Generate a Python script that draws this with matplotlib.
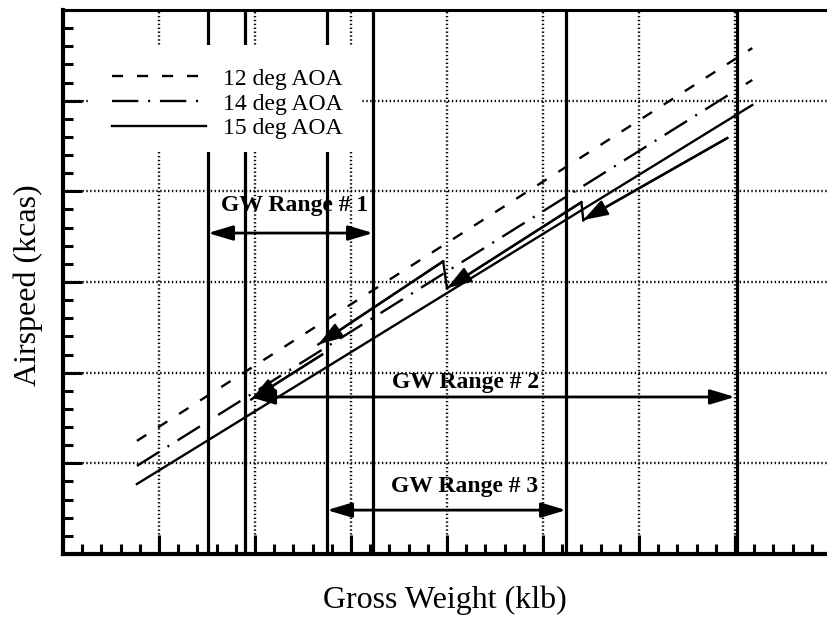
import matplotlib
matplotlib.use("Agg")
import matplotlib.pyplot as plt
from matplotlib.ticker import MultipleLocator, NullFormatter
from matplotlib.patches import Rectangle

plt.rcParams['font.family'] = ['Liberation Serif', 'DejaVu Serif']
plt.rcParams['lines.scale_dashes'] = False

# ---- data (GW in klb, airspeed in kcas) ----
aoa_labels = ["12 deg AOA", "14 deg AOA", "15 deg AOA"]
gw_12 = [43.85, 75.9]
kcas_12 = [131.2, 239.5]
gw_14 = [43.85, 75.9]
kcas_14 = [124.3, 230.7]
gw_15 = [43.85, 75.9]
kcas_15 = [119.3, 223.8]

# schedule (arrow) paths with steps
path_c_gw = [74.6, 67.1]
path_c_kcas = [214.7, 192.1]
path_b_gw = [67.0, 60.0]
path_b_kcas = [197.0, 173.3]
step_b_gw = [67.0, 67.1]
step_b_kcas = [197.0, 192.0]
path_a_gw = [59.8, 53.3]
path_a_kcas = [180.7, 157.8]
step_a_gw = [59.8, 60.0]
step_a_kcas = [180.7, 173.3]
path_d_gw = [53.5, 49.8]
path_d_kcas = [155.0, 142.6]

# GW range boundaries (thick vertical lines)
range_lines = [47.55, 49.48, 53.75, 56.15, 66.2, 75.1]
range_names = ["GW Range # 1", "GW Range # 2", "GW Range # 3"]
range_lo = [47.55, 49.74, 53.75]
range_hi = [56.15, 75.0, 66.2]
range_kcas = [188.5, 143.3, 112.1]
label_gw = [52.08, 60.97, 60.9]
label_kcas = [196.2, 147.4, 118.5]

W, H = 827, 620
fig = plt.figure(figsize=(W/100, H/100), dpi=100)
ax = fig.add_axes([63/W, (H-554)/H, (831-63)/W, (554-10)/H])
ax.set_xlim(40, 80)
ax.set_ylim(100, 250)

ax.xaxis.set_major_locator(MultipleLocator(5))
ax.xaxis.set_minor_locator(MultipleLocator(1))
ax.yaxis.set_major_locator(MultipleLocator(25))
ax.yaxis.set_minor_locator(MultipleLocator(5))
ax.xaxis.set_major_formatter(NullFormatter())
ax.yaxis.set_major_formatter(NullFormatter())
ax.tick_params(which='both', direction='in', top=False, right=False, width=2.2, color='black')
ax.tick_params(which='minor', length=7)
ax.tick_params(which='major', length=14)
ax.grid(True, which='major', linestyle=(0, (1, 1.8)), color='black', linewidth=1.7)
for s in ['left', 'bottom']:
    ax.spines[s].set_linewidth(3)
ax.spines['top'].set_linewidth(2.2)
ax.spines['right'].set_linewidth(2)

for x in range_lines:
    ax.axvline(x, color='black', linewidth=2.3, zorder=2)

lw = 1.7
l12, = ax.plot(gw_12, kcas_12, color='black', lw=lw, dashes=(8, 10), zorder=3)
l14, = ax.plot(gw_14, kcas_14, color='black', lw=lw, dashes=(19, 7, 1.5, 7), zorder=3)
l15, = ax.plot(gw_15, kcas_15, color='black', lw=lw, zorder=3)

for gx, gy in [(path_c_gw, path_c_kcas), (path_b_gw, path_b_kcas), (path_a_gw, path_a_kcas),
               (step_b_gw, step_b_kcas), (step_a_gw, step_a_kcas), (path_d_gw, path_d_kcas)]:
    ax.plot(gx, gy, color='black', lw=lw, zorder=3)

arrow_kw = dict(arrowstyle='-|>,head_length=1.5,head_width=0.5', color='black', lw=lw, shrinkA=0, shrinkB=0)
for gx, gy in [(path_c_gw, path_c_kcas), (path_b_gw, path_b_kcas), (path_a_gw, path_a_kcas),
               (path_d_gw, path_d_kcas)]:
    ax.annotate('', xy=(gx[-1], gy[-1]), xytext=(gx[0], gy[0]), arrowprops=arrow_kw, zorder=4)

range_kw = dict(arrowstyle='<|-|>,head_length=1.5,head_width=0.45', color='black', lw=2, shrinkA=0, shrinkB=0)
for name, x0, x1, yv, tx, ty in zip(range_names, range_lo, range_hi, range_kcas, label_gw, label_kcas):
    ax.annotate('', xy=(x1, yv), xytext=(x0, yv), arrowprops=range_kw, zorder=4)
    ax.text(tx, ty, name, ha='center', va='center', fontsize=17, fontweight='bold', zorder=5)

ax.add_patch(Rectangle((0.035, 0.739), 0.354, 0.197, transform=ax.transAxes,
                       facecolor='white', edgecolor='none', zorder=5))
leg = ax.legend([l12, l14, l15], aoa_labels, loc='upper left', bbox_to_anchor=(0.0638, 0.893),
                frameon=False, fontsize=17, handlelength=4.0, handletextpad=0.72,
                labelspacing=0.14, borderpad=0, borderaxespad=0)
leg.set_zorder(6)

fig.text(445/W, 1 - 600/H, "Gross Weight (klb)", ha='center', va='center', fontsize=23)
fig.text(28/W, 1 - 285/H, "Airspeed (kcas)", ha='center', va='center', fontsize=23, rotation=90)

fig.savefig("out.png", dpi=100)
